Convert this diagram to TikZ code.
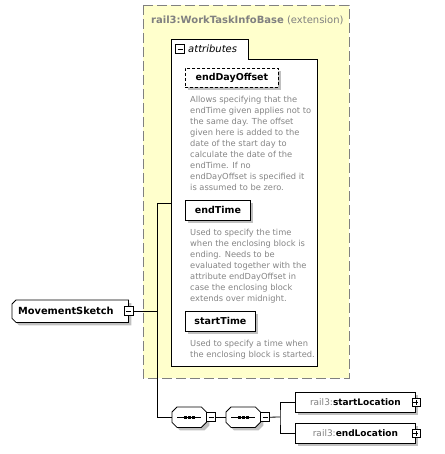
\documentclass[tikz,border=0pt]{standalone}
\usepackage{fontspec}
\setmainfont{DejaVu Sans}
\usetikzlibrary{shadows,positioning}
\definecolor{extyellow}{HTML}{FFFFCC}
\definecolor{extgray}{HTML}{808080}
\definecolor{docgray}{HTML}{858585}
\definecolor{shadowgray}{HTML}{C0C0C0}
\tikzstyle{shade} = [drop shadow={shadow xshift=3pt, shadow yshift=-3pt, fill=shadowgray, opacity=1}]
\tikzstyle{elem} = [draw, fill=white, line width=0.8pt, inner sep=0pt, minimum height=20pt, font=\bfseries\fontsize{9.5}{11}\selectfont, shade]
\tikzstyle{optelem} = [elem, dash pattern=on 3pt off 2pt]
\tikzstyle{octo} = [draw, fill=white, line width=0.8pt, shade]
\tikzstyle{octolabel} = [inner sep=0pt, minimum height=20pt, font=\bfseries\fontsize{9.5}{11}\selectfont]
\tikzstyle{doc} = [anchor=north west, inner sep=0pt, align=left, text=docgray, font=\fontsize{8.3}{11}\selectfont]
\tikzstyle{minus} = [draw, fill=white, line width=0.6pt, minimum size=9pt, inner sep=0pt, path picture={\draw ([xshift=2pt]path picture bounding box.west) -- ([xshift=-2pt]path picture bounding box.east);}]
\tikzstyle{plus} = [draw, fill=white, line width=0.6pt, minimum size=8pt, inner sep=0pt, path picture={\draw ([xshift=1.5pt]path picture bounding box.west) -- ([xshift=-1.5pt]path picture bounding box.east); \draw ([yshift=-1.5pt]path picture bounding box.north) -- ([yshift=1.5pt]path picture bounding box.south);}]
\tikzstyle{conn} = [line width=0.8pt]

\begin{document}
\begin{tikzpicture}[x=1pt, y=-1pt]
\useasboundingbox (0,0) rectangle (444,454);
\draw[extgray, fill=extyellow, line width=0.9pt, dash pattern=on 10pt off 4pt] (143,5) rectangle (349,378);
\node[anchor=west, inner sep=0pt, text=extgray, font=\fontsize{10}{12}\selectfont] (exttitle) at (151,20) {\textbf{rail3:WorkTaskInfoBase} (extension)};
\draw[fill=white, line width=0.8pt] (171,39) -- (248,39) -- (248,59) -- (317,59) -- (317,366) -- (171,366) -- cycle;
\node[minus] (attrm) at (180,49) {};
\node[anchor=west, inner sep=0pt, font=\itshape\fontsize{10}{12}\selectfont] (attrlabel) at (188,49) {attributes};
\node[optelem, anchor=north west, minimum width=93pt, minimum height=19pt] (enddayoffset) at (185,68) {endDayOffset};
\node[doc] (enddayoffsetdoc) at (190,96) {Allows specifying that the\\endTime given applies not to\\the same day. The offset\\given here is added to the\\date of the start day to\\calculate the date of the\\endTime. If no\\endDayOffset is specified it\\is assumed to be zero.};
\node[elem, anchor=north west, minimum width=65pt] (endtime) at (185,200) {endTime};
\node[doc] (endtimedoc) at (190,229) {Used to specify the time\\when the enclosing block is\\ending. Needs to be\\evaluated together with the\\attribute endDayOffset in\\case the enclosing block\\extends over midnight.};
\node[elem, anchor=north west, minimum width=70pt] (starttime) at (185,311) {startTime};
\node[doc] (starttimedoc) at (190,340) {Used to specify a time when\\the enclosing block is started.};
\node[octolabel, anchor=north west, minimum width=116pt, minimum height=22pt, font=\bfseries\fontsize{9.8}{11}\selectfont] (sketch) at (12,300) {};
\draw[octo] ([xshift=4pt]sketch.north west) -- (sketch.north east) -- (sketch.south east) -- ([xshift=4pt]sketch.south west) -- ([yshift=4pt]sketch.south west) -- ([yshift=-4pt]sketch.north west) -- cycle;
\node[octolabel, anchor=west, font=\bfseries\fontsize{9.8}{11}\selectfont] (sketchlabel) at ([xshift=6pt]sketch.west) {MovementSketch};
\node[minus] (sketchm) at (sketch.east) {};
\node[octolabel, anchor=north west, minimum width=34pt] (seq1) at (172,407) {};
\node[octolabel, anchor=north west, minimum width=34pt] (seq2) at (226,407) {};
\draw[octo] ([xshift=5pt]seq1.north west) -- ([xshift=-5pt]seq1.north east) -- ([yshift=-5pt]seq1.north east) -- ([yshift=5pt]seq1.south east) -- ([xshift=-5pt]seq1.south east) -- ([xshift=5pt]seq1.south west) -- ([yshift=5pt]seq1.south west) -- ([yshift=-5pt]seq1.north west) -- cycle;
\draw[octo] ([xshift=5pt]seq2.north west) -- ([xshift=-5pt]seq2.north east) -- ([yshift=-5pt]seq2.north east) -- ([yshift=5pt]seq2.south east) -- ([xshift=-5pt]seq2.south east) -- ([xshift=5pt]seq2.south west) -- ([yshift=5pt]seq2.south west) -- ([yshift=-5pt]seq2.north west) -- cycle;
\draw[conn] ([xshift=-12pt]seq1.center) -- ([xshift=12pt]seq1.center);
\draw[conn] ([xshift=-12pt]seq2.center) -- ([xshift=12pt]seq2.center);
\foreach \d in {-4,0,4} {
  \fill ([xshift=\d pt]seq1.center) ++(-1.5,-1.5) rectangle ++(3,3);
  \fill ([xshift=\d pt]seq2.center) ++(-1.5,-1.5) rectangle ++(3,3);
}
\node[minus, right=0pt of seq1] (seq1m) {};
\node[minus, right=0pt of seq2] (seq2m) {};
\node[elem, anchor=north west, minimum width=120pt, font=\bfseries\fontsize{9}{11}\selectfont] (startloc) at (295,392) {{\mdseries\color{extgray}rail3:}startLocation};
\node[plus] (startlocp) at (startloc.east) {};
\node[elem, anchor=north west, minimum width=120pt, font=\bfseries\fontsize{9}{11}\selectfont] (endloc) at (295,423) {{\mdseries\color{extgray}rail3:}endLocation};
\node[plus] (endlocp) at (endloc.east) {};
\coordinate (attrin) at (171,203);
\coordinate (trunk) at (157,203);
\coordinate (fork) at (280,417);
\draw[conn] (attrin) -- (trunk) |- (seq1.west);
\draw[conn] (sketchm.east) -- (sketchm.east -| trunk);
\draw[conn] (seq1m.east) -- (seq2.west);
\draw[conn] (seq2m.east) -- (fork);
\draw[conn] (startloc.west) -| (fork) |- (endloc.west);
\end{tikzpicture}
\end{document}
